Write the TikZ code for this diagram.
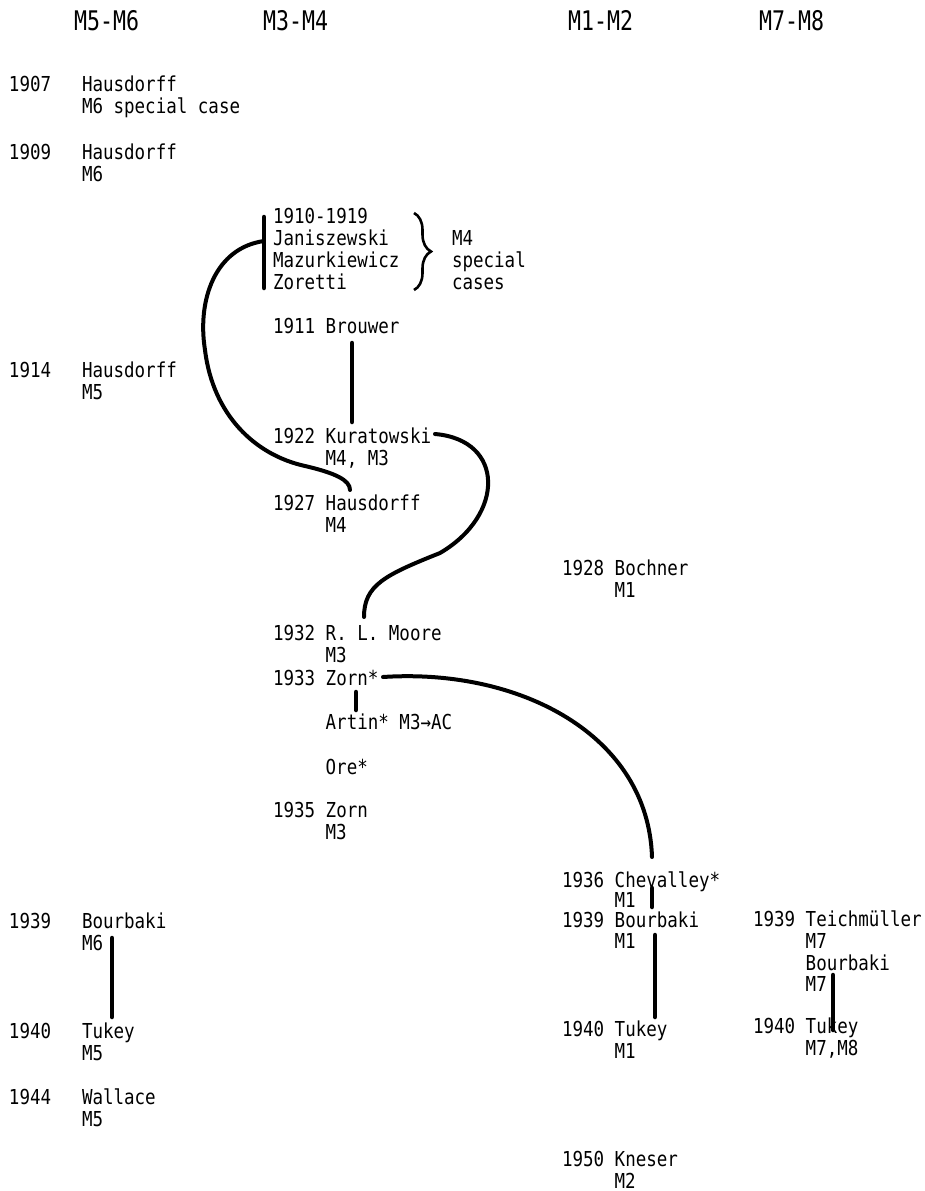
\documentclass[tikz,border=0pt]{standalone}
\usepackage{fontspec}
\newfontfamily\bodyfont[FakeStretch=0.85]{DejaVu Sans Mono}
\newfontfamily\hdrfont[FakeStretch=0.8]{DejaVu Sans Mono}
\usetikzlibrary{decorations.pathreplacing}
\begin{document}
\begin{tikzpicture}[x=1pt,y=-1pt,
  txt/.style={anchor=base west, inner sep=0pt, outer sep=0pt, font=\bodyfont\fontsize{20.6pt}{22pt}\selectfont},
  hdr/.style={anchor=base west, inner sep=0pt, outer sep=0pt, font=\hdrfont\fontsize{27pt}{30pt}\selectfont},
  bar/.style={line width=4.5pt, line cap=round},
  link/.style={line width=4pt, line cap=round},
  bracestyle/.style={line width=2.6pt, decorate, decoration={brace, amplitude=17pt}}]
\fill[white] (0,0) rectangle (924,1191);
\useasboundingbox (0,0) rectangle (924,1191);

% headers
\node[hdr] (h56) at (74,30) {M5-M6};
\node[hdr] (h34) at (263,30) {M3-M4};
\node[hdr] (h12) at (568,30) {M1-M2};
\node[hdr] (h78) at (759,30) {M7-M8};

% left column (M5-M6)
\node[txt] (y1907) at (9,91.5) {1907};
\node[txt] (n1907) at (82,91.5) {Hausdorff};
\node[txt] (m1907) at (82,113.5) {M6 special case};
\node[txt] (y1909) at (9,159.5) {1909};
\node[txt] (n1909) at (82,159.5) {Hausdorff};
\node[txt] (m1909) at (82,181.5) {M6};
\node[txt] (y1914) at (9,377.5) {1914};
\node[txt] (n1914) at (82,377.5) {Hausdorff};
\node[txt] (m1914) at (82,399.5) {M5};
\node[txt] (y1939l) at (9,928.5) {1939};
\node[txt] (n1939l) at (82,928.5) {Bourbaki};
\node[txt] (m1939l) at (82,950.5) {M6};
\node[txt] (y1940l) at (9,1038.5) {1940};
\node[txt] (n1940l) at (82,1038.5) {Tukey};
\node[txt] (m1940l) at (82,1060.5) {M5};
\node[txt] (y1944) at (9,1104.5) {1944};
\node[txt] (n1944) at (82,1104.5) {Wallace};
\node[txt] (m1944) at (82,1126.5) {M5};

% middle column (M3-M4)
\node[txt] (y1910) at (273,223.5) {1910-1919};
\node[txt] (jan) at (273,245.5) {Janiszewski};
\node[txt] (maz) at (273,267.5) {Mazurkiewicz};
\node[txt] (zor) at (273,289.5) {Zoretti};
\node[txt] (sc1) at (452,245.5) {M4};
\node[txt] (sc2) at (452,267.5) {special};
\node[txt] (sc3) at (452,289.5) {cases};
\node[txt] (brou) at (273,333.5) {1911 Brouwer};
\node[txt] (kura) at (273,443.5) {1922 Kuratowski};
\node[txt] (kuram) at (325.7,465.5) {M4, M3};
\node[txt] (haus27) at (273,510) {1927 Hausdorff};
\node[txt] (haus27m) at (325.7,532) {M4};
\node[txt] (moore) at (273,640.5) {1932 R. L. Moore};
\node[txt] (moorem) at (325.7,662.5) {M3};
\node[txt] (zorn33) at (273,685) {1933 Zorn*};
\node[txt] (artin) at (325.7,729.5) {Artin* M3→AC};
\node[txt] (ore) at (325.7,774.5) {Ore*};
\node[txt] (zorn35) at (273,817.5) {1935 Zorn};
\node[txt] (zorn35m) at (325.7,839.5) {M3};

% M1-M2 column
\node[txt] (boch) at (562,575.5) {1928 Bochner};
\node[txt] (bochm) at (614.7,597.5) {M1};
\node[txt] (chev) at (562,887) {1936 Chevalley*};
\node[txt] (chevm) at (614.7,907.5) {M1};
\node[txt] (bour1) at (562,927.5) {1939 Bourbaki};
\node[txt] (bour1m) at (614.7,948) {M1};
\node[txt] (tuk1) at (562,1036.5) {1940 Tukey};
\node[txt] (tuk1m) at (614.7,1058.5) {M1};
\node[txt] (knes) at (562,1166.5) {1950 Kneser};
\node[txt] (knesm) at (614.7,1188) {M2};

% M7-M8 column
\node[txt] (teich) at (753,926) {1939 Teichmüller};
\node[txt] (teichm) at (805.7,948) {M7};
\node[txt] (bour7) at (805.7,970) {Bourbaki};
\node[txt] (bour7m) at (805.7,991.5) {M7};
\node[txt] (tuk7) at (753,1033) {1940 Tukey};
\node[txt] (tuk7m) at (805.7,1055) {M7,M8};

% connector end points
\coordinate (janT) at (264,217);
\coordinate (janB) at (264,288);
\coordinate (janJ) at (264,241);
\coordinate (h27T) at (350,490);
\coordinate (brB) at (352,343);
\coordinate (kuT) at (352,422);
\coordinate (kuR) at (435,434);
\coordinate (moT) at (364,617);
\coordinate (zoR) at (383,677);
\coordinate (chT) at (652,857);
\coordinate (zoB) at (356,692);
\coordinate (arT) at (356,710);
\coordinate (chB) at (652,888);
\coordinate (boT) at (652,907);
\coordinate (boB) at (655,935);
\coordinate (tuT) at (655,1017);
\coordinate (lbB) at (112,938);
\coordinate (ltT) at (112,1017);
\coordinate (rbB) at (833,975);
\coordinate (rtT) at (833,1030);
\coordinate (brTop) at (414,213);
\coordinate (brBot) at (414,290);

% connectors
\draw[bar] (janT) -- (janB);
\draw[link] (janJ) .. controls (215,248) and (197,300) .. (205,350)
  .. controls (213,415) and (255,455) .. (305,466)
  .. controls (335,473) and (350,480) .. (h27T);
\draw[bar] (brB) -- (kuT);
\draw[link] (kuR) .. controls (505,440) and (505,515) .. (440,553)
  .. controls (385,575) and (364,585) .. (moT);
\draw[link] (zoR) .. controls (520,668) and (648,735) .. (chT);
\draw[bar] (zoB) -- (arT);
\draw[bar] (chB) -- (boT);
\draw[bar] (boB) -- (tuT);
\draw[bar] (lbB) -- (ltT);
\draw[bar] (rbB) -- (rtT);
\draw[bracestyle] (brTop) -- (brBot);
\end{tikzpicture}
\end{document}
